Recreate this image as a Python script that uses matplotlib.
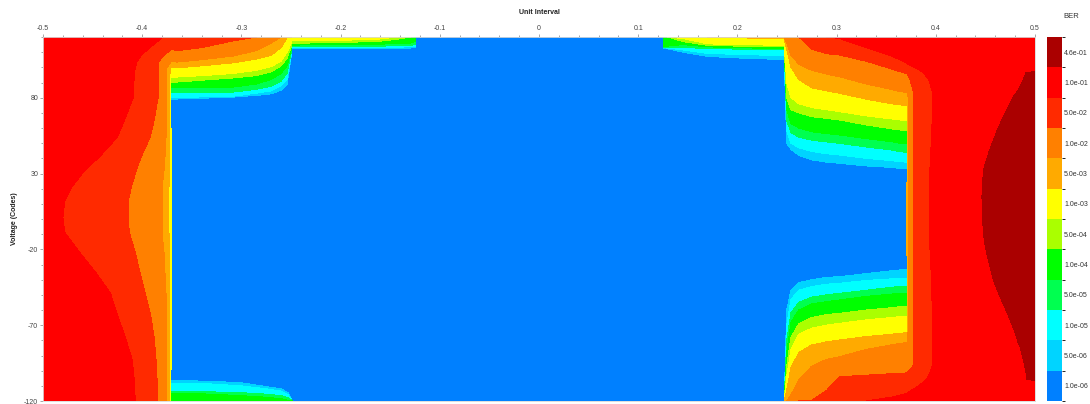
import numpy as np
import matplotlib
matplotlib.use("Agg")
import matplotlib.pyplot as plt
from matplotlib.colors import ListedColormap, BoundaryNorm
from matplotlib.cm import ScalarMappable
from matplotlib.ticker import MultipleLocator

plt.rcParams['font.family'] = ['Liberation Sans', 'DejaVu Sans']
plt.rcParams['axes.unicode_minus'] = False

# BER scale, band 0 (lowest) .. band 11 (highest)
ber_labels = ['1.0e-06', '5.0e-06', '1.0e-05', '5.0e-05', '1.0e-04', '5.0e-04',
              '1.0e-03', '5.0e-03', '1.0e-02', '5.0e-02', '1.0e-01', '4.6e-01']
band_colors = ['#0080FF', '#00D4FF', '#00FFFF', '#00FF50', '#00FF00', '#AAFF00',
               '#FFFF00', '#FFAA00', '#FF8000', '#FF2A00', '#FF0000', '#AA0000']
levels = np.arange(-0.5, 12.0, 1.0)   # band k sits between k-0.5 and k+0.5

ui_ticks = [-0.5, -0.4, -0.3, -0.2, -0.1, 0.0, 0.1, 0.2, 0.3, 0.4, 0.5]
ui_tick_labels = ['-0.5', '-0.4', '-0.3', '-0.2', '-0.1', '0', '0.1', '0.2', '0.3', '0.4', '0.5']
code_ticks = [-120, -70, -20, 30, 80]

# ---------------------------------------------------------------
# left edge of the eye: UI where each band edge sits, per voltage
# ---------------------------------------------------------------
le_codes = [120, 112, 108, 104, 100, 95, 80, 65, 54, 41, 32, 21, 12, 1, -9,
            -22, -36, -49, -65, -78, -93, -106, -120]
le_edge_95 = [-0.379, -0.394, -0.401, -0.405, -0.407, -0.408, -0.409, -0.418, -0.425,
              -0.443, -0.458, -0.471, -0.478, -0.480, -0.478, -0.463, -0.446, -0.432,
              -0.424, -0.417, -0.410, -0.408, -0.407]
le_edge_85 = [-0.3702, -0.3702, -0.378, -0.383, -0.384, -0.384, -0.384, -0.388, -0.392,
              -0.401, -0.406, -0.411, -0.414, -0.414, -0.413, -0.407, -0.402, -0.397,
              -0.391, -0.388, -0.386, -0.385, -0.385]
le_edge_75 = [-0.3702, -0.3702, -0.3702, -0.3702, -0.375, -0.376, -0.376, -0.376, -0.376,
              -0.377, -0.378, -0.380, -0.380, -0.380, -0.380, -0.378, -0.377, -0.376,
              -0.376, -0.376, -0.376, -0.376, -0.376]
le_edge_65 = [-0.3702, -0.3702, -0.3702, -0.3702, -0.3702, -0.3725, -0.3725, -0.3725,
              -0.3725, -0.3725, -0.3725, -0.373, -0.373, -0.373, -0.373, -0.3725, -0.3725,
              -0.3725, -0.3725, -0.3725, -0.3725, -0.3725, -0.3725]
le_bands = [10.3, 9.5, 8.5, 7.5, 6.5, 5.6]

# ---------------------------------------------------------------
# right edge of the eye
# ---------------------------------------------------------------
re_codes = [120, 110, 102.8, 97.2, 96.5, 91.7, 85, 83, 80.4, 70, 58.7, 45, 32.3, 15, 4,
            -10, -18.5, -30, -40.2, -50, -62, -75, -81.5, -84.4, -95, -98, -101.5,
            -105.8, -106.5, -110, -115, -120]
re_edge_75 = [0.3702] * 7 + [0.371] + [0.372] * 14 + [0.3702] * 10
re_edge_85 = [0.3702, 0.3702, 0.3702, 0.3702, 0.371, 0.374, 0.377] + [0.378] * 18 + \
             [0.376] + [0.3702] * 6
re_edge_95 = [0.3702, 0.3702, 0.3702, 0.386, 0.3875, 0.393, 0.396, 0.397, 0.397, 0.3965,
              0.396, 0.395, 0.394, 0.3935, 0.3935, 0.394, 0.394, 0.395, 0.3955, 0.396,
              0.3965, 0.397, 0.397, 0.397, 0.397, 0.396, 0.394, 0.3905, 0.389, 0.383,
              0.3702, 0.3702]
re_edge_105 = [0.5, 0.5, 0.5, 0.5, 0.491, 0.488, 0.483, 0.481, 0.478, 0.470, 0.462, 0.454,
               0.448, 0.4465, 0.447, 0.448, 0.450, 0.454, 0.458, 0.464, 0.472, 0.480,
               0.483, 0.485, 0.489, 0.490, 0.491, 0.492, 0.5, 0.5, 0.5, 0.5]
re_bands = [7.0, 7.5, 8.5, 9.5, 10.5, 11.0]

# ---------------------------------------------------------------
# shoulders and top strips: voltage of each band edge, per UI
# ---------------------------------------------------------------
tl_ui = [-0.3702, -0.365, -0.34, -0.308, -0.285, -0.27, -0.26, -0.254, -0.2485]
tl_edges = [
    [120] * 9,
    [112, 111, 113, 117.5, 120, 120, 120, 120, 120],
    [104, 103.5, 105, 107.5, 111, 116, 120, 120, 120],
    [99.6, 99.6, 101, 103, 105.5, 108, 113, 119.5, 120],
    [93.6, 93.6, 94.5, 96, 98, 100.5, 104, 110, 117.6],
    [90.3, 90.3, 91.5, 93, 94.5, 97, 101, 106, 115.8],
    [86.4, 86.4, 86.8, 87, 89, 92, 96, 101, 114.7],
    [83.1, 83.1, 83.4, 83.7, 85.5, 87.5, 91, 96, 113.8],
    [80.0, 80.0, 80.5, 81, 83, 84.5, 88, 92, 113.2],
    [79.1, 79.1, 79.6, 80.4, 81.5, 82.5, 85, 89, 112.7],
    [60] * 9,
]
tl_bands = [9.35, 8.5, 7.5, 6.5, 5.5, 4.5, 3.5, 2.5, 1.5, 0.5, 0]

bl_ui = [-0.3702, -0.36, -0.33, -0.30, -0.275, -0.26, -0.253, -0.2485]
bl_edges = [
    [-100] * 8,
    [-106.6, -106.6, -107, -108, -110.5, -112, -114.5, -120],
    [-108.3, -108.3, -108.8, -110, -112, -113.5, -116, -120],
    [-113.8, -113.8, -114, -114.5, -115.5, -116.5, -118, -120],
    [-114.9, -114.9, -115.5, -116.5, -117.5, -118.5, -119.5, -120],
    [-120] * 8,
]
bl_bands = [0, 0.5, 1.5, 2.5, 3.5, 4.4]

ml_ui = [-0.2485, -0.22, -0.19, -0.16, -0.143, -0.13, -0.1245]
ml_edges = [
    [120] * 7,
    [117.6, 117.8, 118, 118.7, 120, 120, 120],
    [115.8, 116.2, 116.5, 117.3, 118.5, 120, 120],
    [114.7, 114.8, 115, 115.3, 115.6, 116, 117],
    [113.8, 113.8, 114, 114, 114.2, 114.5, 115],
    [113.2, 113.2, 113.2, 113.2, 113.3, 113.5, 113.8],
    [112.7, 112.7, 112.6, 112.5, 112.5, 112.7, 113],
    [108] * 7,
]
ml_bands = [6.3, 5.5, 4.5, 3.5, 2.5, 1.5, 0.5, 0]

mr_ui = [0.125, 0.13, 0.145, 0.17, 0.2, 0.23, 0.2472]
mr_edges = [
    [120] * 7,
    [120, 120, 120, 120, 119.5, 119, 118.8],
    [120, 120, 119, 115.5, 114.9, 114.7, 114.7],
    [120, 120, 117, 114.5, 114, 113.6, 113.6],
    [114, 114, 115, 113.5, 113, 112.5, 112.2],
    [113.3, 113.3, 113, 112.5, 112, 111.8, 111.6],
    [112.9, 112.7, 111.5, 109.2, 108.5, 108, 107.8],
    [112.7, 112.2, 110, 107.2, 106.2, 105.5, 105.3],
    [100] * 7,
]
mr_bands = [7.3, 6.5, 5.5, 4.5, 3.5, 2.5, 1.5, 0.5, 0]

tr_ui = [0.2472, 0.2497, 0.254, 0.262, 0.275, 0.29, 0.303, 0.33, 0.355, 0.364, 0.3702]
tr_edges = [
    [120] * 11,
    [120, 120, 120, 120, 120, 120, 119, 113, 107.5, 105, 102.8],
    [120, 120, 120, 120, 112, 109, 108.1, 104, 99, 97.1, 96],
    [119.5, 116, 108, 102, 98, 95.5, 93.8, 89, 85.5, 84, 83.5],
    [118.8, 112, 100, 92, 86.5, 84.5, 82.9, 79, 76, 75.2, 75],
    [114.7, 90, 80, 76, 73.5, 72, 70.8, 68, 66, 65.3, 65],
    [113.6, 80, 72, 70, 67.5, 66.3, 65.3, 62, 59.5, 58.7, 58.5],
    [112.2, 72, 63, 60, 57.5, 56.3, 55.4, 53, 51, 49.9, 49.5],
    [111.6, 65, 57, 54, 52, 50.8, 49.9, 47.5, 45.5, 44.4, 44],
    [107.8, 58, 50, 47, 44.5, 43, 42.2, 40, 38.5, 37.8, 37.5],
    [105.3, 50, 46, 42, 39, 37.5, 36.7, 35, 34, 33.4, 33],
    [25] * 11,
]
tr_bands = [10.2, 9.5, 8.5, 7.5, 6.5, 5.5, 4.5, 3.5, 2.5, 1.5, 0.5, 0]

br_ui = tr_ui
br_edges = [
    [-25] * 11,
    [-120, -60, -47, -42, -40, -38.5, -38, -36, -34.2, -33.6, -33.4],
    [-120, -70, -53, -47, -44.5, -43, -42.4, -40.5, -39.5, -39.1, -39],
    [-120, -80, -62, -55, -51.5, -50, -49, -47, -45, -44.6, -44.5],
    [-120, -88, -68, -60, -56, -54.5, -53.4, -51, -49.5, -49, -49],
    [-120, -97, -78, -69, -65, -63, -62.2, -60, -58.5, -57.8, -57.5],
    [-120, -104, -86, -76, -72, -70, -68.8, -66.5, -65, -64.4, -64],
    [-120, -113, -98, -88, -83, -81, -79.8, -77.5, -76, -75.4, -75],
    [-120, -120, -116, -106, -97, -92.5, -90.8, -86, -83, -82, -81.5],
    [-120, -120, -120, -120, -119.5, -113, -104, -103, -102, -101.7, -101.5],
    [-120, -120, -120, -120, -120, -120, -120, -120, -117.5, -116.2, -115],
    [-120] * 11,
]
br_bands = [0, 0.5, 1.5, 2.5, 3.5, 4.5, 5.5, 6.5, 7.5, 8.5, 9.5, 10.2]


def fill_by_ui(ax, ui, edges, bands):
    """one row per band edge, giving its voltage at each UI station"""
    ys = np.array(edges, dtype=float)
    xs = np.tile(np.array(ui, dtype=float), (len(edges), 1))
    zs = np.repeat(np.array(bands, dtype=float)[:, None], len(ui), axis=1)
    ax.contourf(xs, ys, zs, levels=levels, colors=band_colors, antialiased=False)


def fill_by_code(ax, codes, edges, bands):
    """one column per band edge, giving its UI at each voltage station"""
    xs = np.array(edges, dtype=float).T
    ys = np.repeat(np.array(codes, dtype=float)[:, None], len(edges), axis=1)
    zs = np.tile(np.array(bands, dtype=float), (len(codes), 1))
    ax.contourf(xs, ys, zs, levels=levels, colors=band_colors, antialiased=False)


fig = plt.figure(figsize=(10.9, 4.04), dpi=100)
ax = fig.add_axes([43 / 1090, 3 / 404, 992 / 1090, 364 / 404])
ax.set_facecolor(band_colors[0])

n = len(le_codes)
fill_by_code(ax, le_codes, [[-0.5] * n, le_edge_95, le_edge_85, le_edge_75, le_edge_65,
                            [-0.3702] * n], le_bands)
n = len(re_codes)
fill_by_code(ax, re_codes, [[0.3702] * n, re_edge_75, re_edge_85, re_edge_95, re_edge_105,
                            [0.5] * n], re_bands)
fill_by_ui(ax, tl_ui, tl_edges, tl_bands)
fill_by_ui(ax, bl_ui, bl_edges, bl_bands)
fill_by_ui(ax, ml_ui, ml_edges, ml_bands)
fill_by_ui(ax, mr_ui, mr_edges, mr_bands)
fill_by_ui(ax, tr_ui, tr_edges, tr_bands)
fill_by_ui(ax, br_ui, br_edges, br_bands)

ax.set_xlim(-0.5, 0.5)
ax.set_ylim(-120, 120)
ax.xaxis.tick_top()
ax.set_xticks(ui_ticks)
ax.set_xticklabels(ui_tick_labels)
ax.xaxis.set_minor_locator(MultipleLocator(0.02))
ax.set_yticks(code_ticks)
ax.yaxis.set_minor_locator(MultipleLocator(10))
ax.tick_params(which='both', direction='out', color='#9a9a9a', width=0.6,
               labelsize=5, labelcolor='#444444', pad=1)
ax.tick_params(which='major', length=2.5)
ax.tick_params(which='minor', length=1.8)
for sp in ax.spines.values():
    sp.set_color('#d8d8d8')
    sp.set_linewidth(0.6)

cax = fig.add_axes([1047 / 1090, 3 / 404, 15 / 1090, 364 / 404])
sm = ScalarMappable(norm=BoundaryNorm(levels, len(band_colors)),
                    cmap=ListedColormap(band_colors))
cb = fig.colorbar(sm, cax=cax, ticks=range(len(ber_labels)))
cb.set_ticklabels(ber_labels)
cb.outline.set_visible(False)
cax.tick_params(length=0, labelsize=5, pad=1.5, labelcolor='#333333')

fig.text(1063 / 1090, 1 - 16.5 / 404, 'BER', fontsize=5.5, ha='left', va='center',
         color='#333333')
fig.text(539 / 1090, 1 - 12 / 404, 'Unit Interval', fontsize=5, fontweight='bold',
         ha='center', va='center', color='#222222')
fig.text(14 / 1090, 1 - 219 / 404, 'Voltage (Codes)', fontsize=5, fontweight='bold',
         rotation=90, ha='center', va='center', color='#222222')

fig.savefig('out.png', dpi=100)
